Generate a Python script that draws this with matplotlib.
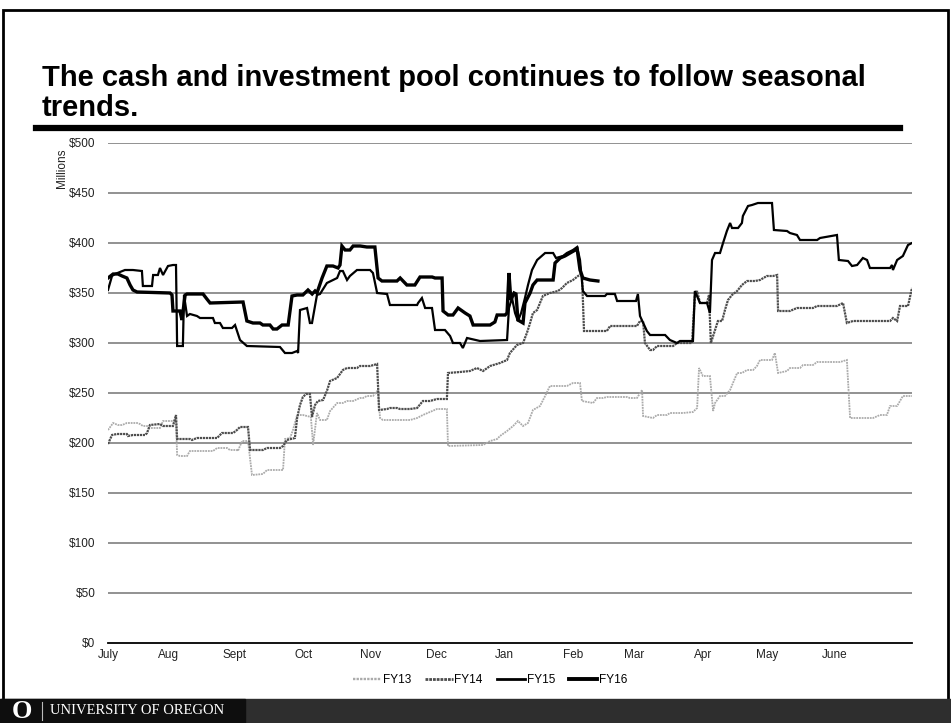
import matplotlib
matplotlib.use("Agg")
import matplotlib.pyplot as plt
from matplotlib.lines import Line2D
from matplotlib.patches import Rectangle

plt.rcParams['font.family'] = ['Liberation Sans', 'DejaVu Sans']

# ---------------- data (trading-day index within fiscal year, $ millions) ----------------
fy13_day = [0, 1.6, 3.1, 4.4, 5.9, 9.1, 10, 10.9, 12.2, 13.1, 16.25, 17.2, 20.3, 21.25, 21.6, 22.5, 24.7,
            25.6, 32.8, 34.1, 37.2, 38.1, 40.3, 40.6, 41.9, 43.75, 45, 48.4, 49.7, 54.7, 55.3, 56.9, 57.8,
            59.1, 60.9, 62.2, 63.4, 64.1, 65.3, 66.25, 68.4, 69.4, 71.6, 73.4, 74.7, 76.6, 78.75, 79.7,
            80.9, 82.8, 84.4, 85, 85.9, 94.4, 96.6, 98.4, 102.8, 105.9, 106.25, 117.2, 119.4, 121.6, 122.5,
            124.7, 126.6, 128.1, 129.7, 131.25, 132.8, 135, 136.6, 138.1, 143.4, 145.3, 147.5, 148.1,
            151.6, 152.8, 154.7, 155.9, 162.2, 163.1, 165.3, 166.9, 167.2, 170.3, 171.6, 174.7, 175.6,
            179.7, 182.8, 184.1, 184.7, 185.9, 188.1, 189.1, 189.7, 191.25, 192.8, 194.4, 195.3, 196.6,
            198.1, 199.7, 201.6, 202.8, 203.75, 207.5, 208.4, 209.4, 212.2, 213.1, 216.25, 217.2, 220.3,
            221.6, 228.75, 230.9, 231.9, 239.1, 241.25, 243.4, 244.4, 246.6, 248.4, 251.25]
fy13_val = [213, 220, 218, 218, 220, 220, 219, 217, 217, 215, 215, 222, 222, 222, 188, 187, 187,
            192, 192, 195, 195, 193, 193, 192, 202, 202, 168, 169, 173, 173, 204, 205, 213,
            228, 228, 227, 226, 198, 230, 223, 223, 232, 240, 240, 242, 242, 245, 245,
            247, 247, 253, 225, 223, 223, 225, 228, 234, 234, 197, 198, 202, 204, 207,
            212, 217, 222, 217, 220, 233, 237, 247, 257, 257, 260, 260, 242,
            240, 245, 245, 246, 246, 245, 245, 253, 227, 225, 228, 228, 230,
            230, 231, 235, 275, 267, 267, 232, 240, 247, 247, 253, 260, 270,
            270, 273, 273, 277, 283, 283, 290, 270, 272, 275, 275, 278, 278,
            281, 281, 283, 225, 225, 228, 228, 237, 237, 247, 247]

fy14_day = [0, 1.25, 2.8, 5.9, 6.25, 7.8, 11.6, 12.2, 13.1, 16.25, 17.2, 20.3, 21.25, 21.6, 25.6, 26.25,
            27.8, 34.1, 35, 35.6, 39.1, 40.3, 41.25, 43.75, 44.4, 48.4, 49.7, 53.75, 54.7, 55.9, 58.4,
            59.1, 60, 60.9, 61.9, 63.1, 63.75, 64.7, 65.6, 67.2, 68.4, 69.4, 71.6, 73.4, 74.7, 77.8,
            78.75, 81.9, 84.1, 84.7, 87.2, 88.1, 90.3, 91.25, 94.4, 96.6, 98.4, 100.6, 102.8, 105.9,
            106.25, 110, 113.1, 115.3, 117.2, 119.4, 122.5, 124.7, 125.6, 127.8, 129.7, 130.9, 131.9,
            132.8, 134.1, 135, 135.9, 138.1, 140.6, 141.9, 143.4, 145.3, 146.9, 148.1, 148.75, 155.9,
            156.9, 165.3, 166.25, 167.2, 167.8, 169.4, 170.3, 171.6, 176.6, 177.8, 182.5, 183.4, 184.1,
            185, 187.2, 187.8, 188.4, 189.7, 190.6, 191.9, 192.8, 193.75, 195, 196.6, 198.1, 199.7,
            202.2, 203.75, 205.9, 207.8, 209.1, 209.4, 213.1, 215.3, 220.3, 221.6, 227.8, 229.7, 230.9,
            232.8, 244.4, 245.3, 246.6, 247.5, 250, 251.25]
fy14_val = [199, 208, 209, 209, 207, 208, 208, 210, 218, 219, 217, 217, 228, 204, 204, 203,
            205, 205, 208, 210, 210, 213, 216, 216, 193, 193, 195, 195, 197, 203, 205,
            225, 238, 246, 249, 249, 226, 238, 242, 243, 252, 262, 265, 273, 275, 275,
            277, 277, 279, 233, 234, 235, 235, 234, 234, 235, 242, 242, 244, 244,
            270, 271, 272, 275, 272, 277, 280, 283, 290, 298, 300, 310, 320,
            330, 333, 340, 347, 350, 352, 355, 360, 363, 367, 370, 312, 312,
            317, 317, 322, 322, 300, 293, 293, 297, 297, 300, 300, 348, 352,
            340, 340, 348, 300, 313, 322, 322, 333, 343, 348, 352, 358, 362,
            362, 363, 367, 367, 368, 332, 332, 335, 335, 337, 337, 340, 320,
            322, 322, 325, 322, 337, 337, 355]

fy15_day = [0, 1.25, 2.2, 5.3, 7.8, 10.6, 10.9, 13.75, 14.1, 15.6, 16.25, 17.2, 18.75, 20.3, 21.25, 21.6,
            23.4, 23.75, 24.7, 25.6, 27.8, 28.75, 32.8, 33.4, 35, 35.9, 38.75, 39.7, 41.25, 43.4, 53.75,
            55.3, 57.5, 59.1, 59.4, 60, 62.2, 63.1, 63.75, 65.3, 66.25, 68.4, 71.6, 72.5, 73.4, 74.7,
            75.6, 77.8, 81.9, 82.8, 84.1, 87.2, 88.1, 96.6, 96.9, 98.1, 99.1, 101.25, 102.2, 105.3,
            106.9, 107.8, 110, 110.9, 112.2, 116.25, 124.7, 125.3, 126.25, 127.2, 128.1, 129.1, 130.3,
            131.25, 132.5, 134.1, 136.6, 139.1, 140, 142.2, 143.4, 145.3, 146.6, 147.5, 148.4, 149.7,
            155.3, 155.9, 158.4, 159.1, 165, 165.6, 166.25, 168.4, 169.4, 174.1, 175.6, 177.8, 178.75,
            182.8, 183.4, 185, 187.2, 188.1, 188.75, 189.7, 191.25, 192.2, 193.4, 194.4, 195, 196.9,
            198.1, 198.4, 200, 201.25, 203.1, 207.5, 208.1, 212.2, 213.1, 215.3, 216.25, 221.6, 222.5,
            227.8, 228.4, 231.25, 232.5, 234.1, 235.9, 237.2, 238.1, 244.4, 245, 245.3, 246.6, 248.4,
            250, 251.25]
fy15_val = [353, 367, 369, 373, 373, 372, 357, 357, 368, 368, 375, 368, 377, 378, 378, 297,
            297, 348, 327, 329, 327, 325, 325, 320, 320, 315, 315, 318, 303, 297, 296,
            290, 290, 292, 290, 333, 335, 320, 320, 348, 349, 360, 365, 372, 372, 363,
            367, 373, 373, 370, 350, 349, 338, 338, 340, 345, 335, 335, 313, 313,
            307, 300, 300, 295, 305, 302, 303, 335, 345, 330, 322, 330, 345,
            358, 373, 383, 390, 390, 385, 387, 390, 393, 396, 383, 352, 347,
            347, 349, 349, 342, 342, 349, 327, 312, 308, 308, 303, 300, 302,
            302, 352, 340, 340, 330, 383, 390, 390, 400, 412, 420, 415, 415,
            420, 427, 437, 438, 440, 440, 413, 412, 410, 408, 403, 403, 405,
            408, 383, 382, 377, 378, 385, 383, 375, 375, 378, 373, 383, 387,
            398, 400]

fy16_day = [0, 1.6, 3.1, 4.4, 5.9, 6.9, 7.8, 9.1, 19.4, 20.0, 20.3, 22.5, 23.1, 24.1, 24.7, 29.7, 30.9,
            31.9, 42.2, 43.4, 45.3, 47.5, 48.4, 50.6, 51.6, 52.8, 54.4, 56.3, 57.5, 59.1, 60.9, 62.5,
            63.8, 64.7, 65.3, 66.9, 68.4, 70.3, 71.9, 72.5, 73.1, 74.1, 75.6, 76.6, 78.8, 80.9, 83.4,
            84.4, 85.6, 90.3, 91.3, 93.4, 95.9, 97.5, 101.3, 102.2, 104.4, 104.7, 106.3, 107.8, 109.4,
            111.6, 113.1, 114.1, 119.4, 120.9, 121.6, 124.1, 124.7, 125.3, 125.9, 126.9, 127.5, 128.1,
            129.7, 130.3, 131.9, 132.8, 134.1, 139.1, 139.7, 141.3, 142.8, 144.4, 146.6, 147.5, 148.4,
            150.6, 153.1]
fy16_val = [365, 369, 369, 367, 365, 358, 353, 351, 350, 348, 332, 332, 323, 348, 349, 349, 344,
            340, 341, 322, 320, 320, 318, 318, 314, 314, 318, 318, 347, 348, 348, 353,
            349, 352, 350, 365, 377, 377, 375, 378, 397, 393, 393, 397, 397, 396, 396,
            365, 362, 362, 365, 358, 358, 366, 366, 365, 365, 332, 328, 328, 335,
            330, 327, 318, 318, 321, 328, 328, 330, 370, 343, 350, 349, 323,
            320, 340, 350, 358, 363, 363, 380, 385, 387, 390, 394, 373, 365,
            363, 362]

month_labels = ['July', 'Aug', 'Sept', 'Oct', 'Nov', 'Dec', 'Jan', 'Feb', 'Mar', 'Apr', 'May', 'June']
month_pos = [0, 18.75, 39.4, 61, 82, 102.5, 124, 145.3, 164.4, 186, 206, 227]
y_ticks = [0, 50, 100, 150, 200, 250, 300, 350, 400, 450, 500]
series_names = ['FY13', 'FY14', 'FY15', 'FY16']

# ---------------- figure ----------------
W, H = 951, 723
fig = plt.figure(figsize=(W / 100, H / 100), dpi=100)
fig.patch.set_facecolor('white')

ax = fig.add_axes([108 / W, 1 - 643 / H, 804 / W, 500 / H])
ax.set_xlim(0, 251.25)
ax.set_ylim(0, 500)
for s in ['top', 'right', 'left']:
    ax.spines[s].set_visible(False)
ax.spines['bottom'].set_color('black')
ax.spines['bottom'].set_linewidth(1.3)
ax.set_yticks(y_ticks)
ax.set_yticklabels(['$%d' % v for v in y_ticks], fontsize=8.5, color='#222222')
ax.set_xticks(month_pos)
ax.set_xticklabels(month_labels, fontsize=8.5, color='#222222')
ax.tick_params(axis='both', length=0)
ax.tick_params(axis='y', pad=9)
ax.tick_params(axis='x', pad=4)
for v in y_ticks[1:]:
    ax.axhline(v, color='#7f7f7f', lw=1.2, zorder=1)

styles = {
    'FY13': dict(color='#ababab', lw=1.3, ls=(0, (1.0, 0.5))),
    'FY14': dict(color='#4d4d4d', lw=1.6, ls=(0, (1.0, 0.35))),
    'FY15': dict(color='black', lw=1.6, ls='-'),
    'FY16': dict(color='black', lw=2.4, ls='-'),
}
data = {'FY13': (fy13_day, fy13_val), 'FY14': (fy14_day, fy14_val),
        'FY15': (fy15_day, fy15_val), 'FY16': (fy16_day, fy16_val)}
for i, name in enumerate(series_names):
    d, v = data[name]
    st = styles[name]
    ax.plot(d, v, color=st['color'], lw=st['lw'], ls=st['ls'], zorder=3 + i,
            solid_joinstyle='miter', dash_joinstyle='miter')

# "Millions" axis title
fig.text(62 / W, 1 - 168 / H, 'Millions', rotation=90, fontsize=8.5, ha='center', va='center', color='#222222')

# legend
handles = [Line2D([], [], color=styles[n]['color'], lw=styles[n]['lw'] + 0.4, ls=styles[n]['ls']) for n in series_names]
fig.legend(handles, series_names, loc='center', bbox_to_anchor=(490 / W, 1 - 680 / H), ncol=4, frameon=False,
           fontsize=8.5, handlelength=2.4, handletextpad=0.1, columnspacing=1.2)

# title
fig.text(42 / W, 1 - 93 / H,
         'The cash and investment pool continues to follow seasonal\ntrends.',
         fontsize=21, fontweight='bold', ha='left', va='center', linespacing=1.12, color='black')
# title underline
fig.add_artist(Line2D([36 / W, 900 / W], [1 - 128 / H, 1 - 128 / H], color='black', lw=4.5,
                      transform=fig.transFigure))

# slide frame
fig.add_artist(Rectangle((3 / W, 1 - 705 / H), 945 / W, 695 / H, fill=False, ec='black', lw=2,
                         transform=fig.transFigure))

# footer band
fig.add_artist(Rectangle((0, 0), 1, 24 / H, color='#2e2e2e', transform=fig.transFigure, zorder=5))
fig.add_artist(Rectangle((0, 0), 245 / W, 24 / H, color='#0e0e0e', transform=fig.transFigure, zorder=6))
fig.text(22 / W, 1 - 711 / H, 'O', fontsize=19, fontweight='bold', family=['Liberation Serif', 'DejaVu Serif'],
         color='white', ha='center', va='center', zorder=7)
fig.add_artist(Line2D([42 / W, 42 / W], [3 / H, 21 / H], color='#bbbbbb', lw=0.8,
                      transform=fig.transFigure, zorder=7))
fig.text(50 / W, 1 - 711 / H, 'UNIVERSITY OF OREGON', fontsize=10.5, family=['Liberation Serif', 'DejaVu Serif'],
         color='white', ha='left', va='center', zorder=7)

fig.savefig('out.png', dpi=100, facecolor='white')
